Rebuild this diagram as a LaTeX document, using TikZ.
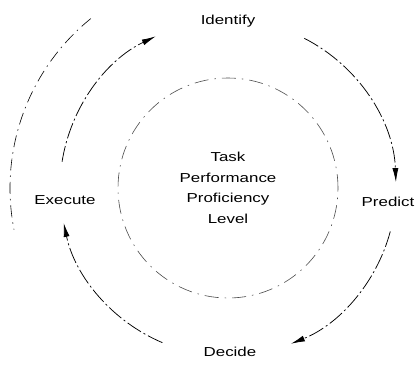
\documentclass[tikz,border=0pt]{standalone}
\usepackage{fontspec}
\setmainfont{Liberation Sans}[FakeStretch=1.3]
\usetikzlibrary{arrows.meta}

\begin{document}
\begin{tikzpicture}[x=1pt,y=1pt,
  stagelabel/.style={inner sep=1pt, font=\fontsize{13}{20}\selectfont},
  hublabel/.style={align=center, inner sep=1pt, font=\fontsize{13}{20.5}\selectfont},
  flow/.style={line width=0.75pt, dash pattern=on 16pt off 3pt on 2pt off 3pt,
               -{Latex[length=14pt,width=6pt]}},
  outerring/.style={line width=0.6pt, dash pattern=on 12pt off 5pt on 1.5pt off 5pt},
  innerring/.style={line width=0.6pt, black!70, dash pattern=on 14pt off 6pt on 1.5pt off 6pt}]

  % canvas
  \path[fill=white, use as bounding box] (0,0) rectangle (418,365);

  % centre of the cycle
  \coordinate (hub) at (228,177);

  % stages of the cycle
  \node[stagelabel] (identify) at (228,344) {Identify};
  \node[stagelabel] (predict)  at (388,163) {Predict};
  \node[stagelabel] (decide)   at (230,13)  {Decide};
  \node[stagelabel] (execute)  at (65,165)  {Execute};

  % central quantity
  \node[hublabel] (level) at (hub) {Task\\Performance\\Proficiency\\Level};

  % inner ring round the central quantity
  \draw[innerring] (hub) circle[radius=110];

  % outer ring on the left
  \draw[outerring] ([shift={(129:218)}]hub) arc[start angle=129, end angle=191, radius=218];

  % the four transitions, clockwise
  \draw[flow] ([shift={(63:168)}]hub)   arc[start angle=63,   end angle=2,     radius=168];
  \draw[flow] ([shift={(-15:168)}]hub)  arc[start angle=-15,  end angle=-68,   radius=168];
  \draw[flow] ([shift={(-113:168)}]hub) arc[start angle=-113, end angle=-168,  radius=168];
  \draw[flow] ([shift={(171:168)}]hub)  arc[start angle=171,  end angle=115.5, radius=168];
\end{tikzpicture}
\end{document}
